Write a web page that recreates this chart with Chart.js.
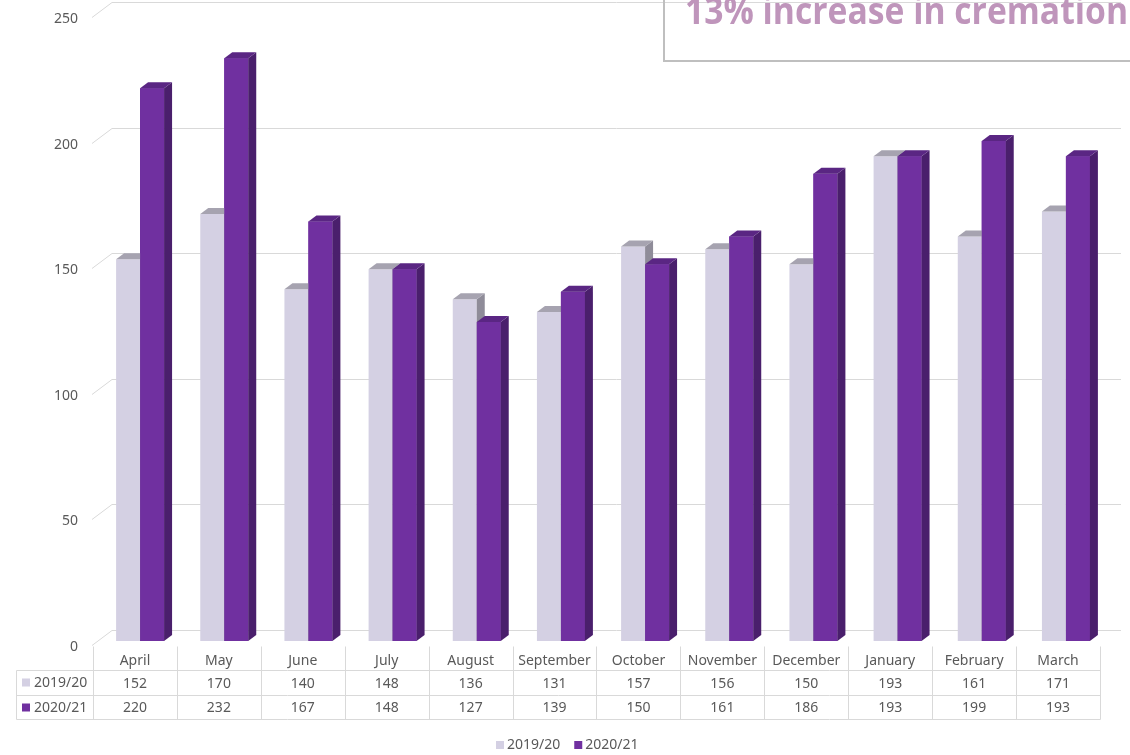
<!DOCTYPE html>
<html><head><meta charset="utf-8">
<script src="https://cdn.jsdelivr.net/npm/chart.js@4.4.0/dist/chart.umd.min.js"></script>
<style>html,body{margin:0;padding:0;background:#fff;overflow:hidden;} #wrap{width:1130px;height:755px;position:relative;}</style>
</head><body><div id="wrap"><canvas id="c" width="1130" height="755"></canvas></div>
<script>
const categories = ['April','May','June','July','August','September','October','November','December','January','February','March'];
const series2019 = [152,170,140,148,136,131,157,156,150,193,161,171];
const series2020 = [220,232,167,148,127,139,150,161,186,193,199,193];
const seriesLabels = ['2019/20','2020/21'];
const yTicks = [0,50,100,150,200,250];
const titleText = '13% increase in cremation';

const FRONT = ['#d4d0e3','#7030a0'];
const TOP = ['#a6a3b0','#5a2683'];
const SIDE = ['#8f8c99','#4a1f6c'];
const DX = 8, DY = 6;
const TXT = '#595959';
const GRID = '#d9d9d9';
const FONT = '"Noto Sans", "Open Sans", sans-serif';

function face(ctx, pts, col){
  ctx.beginPath();
  ctx.moveTo(pts[0][0],pts[0][1]);
  for(let i=1;i<pts.length;i++) ctx.lineTo(pts[i][0],pts[i][1]);
  ctx.closePath();
  ctx.fillStyle=col; ctx.fill();
}

const deco = {
  id:'deco',
  beforeDatasetsDraw(chart){
    const ctx=chart.ctx, y=chart.scales.y, x=chart.scales.x, a=chart.chartArea;
    ctx.save();
    // grid (3D walls)
    ctx.strokeStyle=GRID; ctx.lineWidth=1;
    const fx=a.left-6, bx=a.left+14, ex=a.right+13;
    yTicks.forEach(v=>{
      const p=y.getPixelForValue(v);
      const yf=Math.round(p+4)+0.5, yb=Math.round(p-11)+0.5;
      ctx.beginPath(); ctx.moveTo(fx,yf); ctx.lineTo(bx,yb); ctx.lineTo(ex,yb); ctx.stroke();
      ctx.fillStyle=TXT; ctx.font='14px '+FONT; ctx.textAlign='right'; ctx.textBaseline='middle';
      ctx.fillText(String(v), a.left-20, yf+2);
    });
    // data table
    const step=x.getPixelForValue(1)-x.getPixelForValue(0);
    const map=px=>93+(px-a.left)*1007/(a.right-a.left);
    const base=y.getPixelForValue(0);
    const r0=Math.round(base+5)+0.5, r1=r0+24, r2=r1+25, r3=r2+24;
    ctx.beginPath();
    for(let i=0;i<=categories.length;i++){
      const bxp=Math.round(map(x.getPixelForValue(i)-step/2))+0.5;
      ctx.moveTo(bxp,r0); ctx.lineTo(bxp,r3);
    }
    const tl=16.5, tr=Math.round(map(x.getPixelForValue(categories.length-1)+step/2))+0.5;
    [r1,r2,r3].forEach(r=>{ctx.moveTo(tl,r);ctx.lineTo(tr,r);});
    ctx.moveTo(tl,r1); ctx.lineTo(tl,r3);
    ctx.stroke();
    ctx.fillStyle=TXT; ctx.font='14px '+FONT; ctx.textAlign='center'; ctx.textBaseline='middle';
    const rows=[series2019,series2020];
    categories.forEach((c,i)=>{
      const cx=map(x.getPixelForValue(i));
      ctx.fillText(c,cx,(r0+r1)/2+3);
      ctx.fillText(String(rows[0][i]),cx,(r1+r2)/2+1);
      ctx.fillText(String(rows[1][i]),cx,(r2+r3)/2+1);
    });
    [r1,r2].forEach((r,k)=>{
      ctx.fillStyle=FRONT[k]; ctx.fillRect(22,r+8,8,8);
      ctx.fillStyle=TXT; ctx.textAlign='left'; ctx.fillText(seriesLabels[k],34,r+13);
    });
    // legend
    ctx.font='14px '+FONT; ctx.textBaseline='middle'; ctx.textAlign='left';
    let lx=496; const ly=745;
    seriesLabels.forEach((s,k)=>{
      ctx.fillStyle=FRONT[k]; ctx.fillRect(lx,ly-4,8,8);
      ctx.fillStyle=TXT; ctx.fillText(s,lx+11,ly);
      lx+=11+ctx.measureText(s).width+14;
    });
    // title box
    ctx.strokeStyle='#bfbfbf'; ctx.lineWidth=2;
    ctx.beginPath(); ctx.moveTo(664,-5); ctx.lineTo(664,61); ctx.lineTo(1140,61); ctx.stroke();
    ctx.font='bold 37px "Open Sans", sans-serif';
    const w=ctx.measureText(titleText).width;
    ctx.translate(685,24); ctx.scale(443/w,1);
    ctx.fillStyle='#bf95bb'; ctx.textAlign='left'; ctx.textBaseline='alphabetic';
    ctx.fillText(titleText,0,0);
    ctx.restore();
  },
  afterDatasetsDraw(chart){
    const ctx=chart.ctx;
    const m0=chart.getDatasetMeta(0), m1=chart.getDatasetMeta(1);
    ctx.save();
    categories.forEach((c,i)=>{
      [m0,m1].forEach((m,k)=>{
        const b=m.data[i];
        if(k===1) b.draw(ctx);
        const l=b.x-b.width/2, r=b.x+b.width/2, t=b.y, bs=b.base;
        face(ctx,[[r,t],[r+DX,t-DY],[r+DX,bs-DY],[r,bs]],SIDE[k]);
        face(ctx,[[l,t],[l+DX,t-DY],[r+DX,t-DY],[r,t]],TOP[k]);
      });
    });
    ctx.restore();
  }
};

new Chart(document.getElementById('c'),{
  type:'bar',
  data:{labels:categories,datasets:[
    {label:seriesLabels[0],data:series2019,backgroundColor:FRONT[0],borderWidth:0,categoryPercentage:0.57,barPercentage:1},
    {label:seriesLabels[1],data:series2020,backgroundColor:FRONT[1],borderWidth:0,categoryPercentage:0.57,barPercentage:1}
  ]},
  options:{
    responsive:false,animation:false,devicePixelRatio:1,
    layout:{padding:{left:98,right:22,top:13,bottom:114}},
    scales:{x:{display:false},y:{display:false,min:0,max:250}},
    plugins:{legend:{display:false},tooltip:{enabled:false},title:{display:false}}
  },
  plugins:[deco]
});
</script></body></html>
